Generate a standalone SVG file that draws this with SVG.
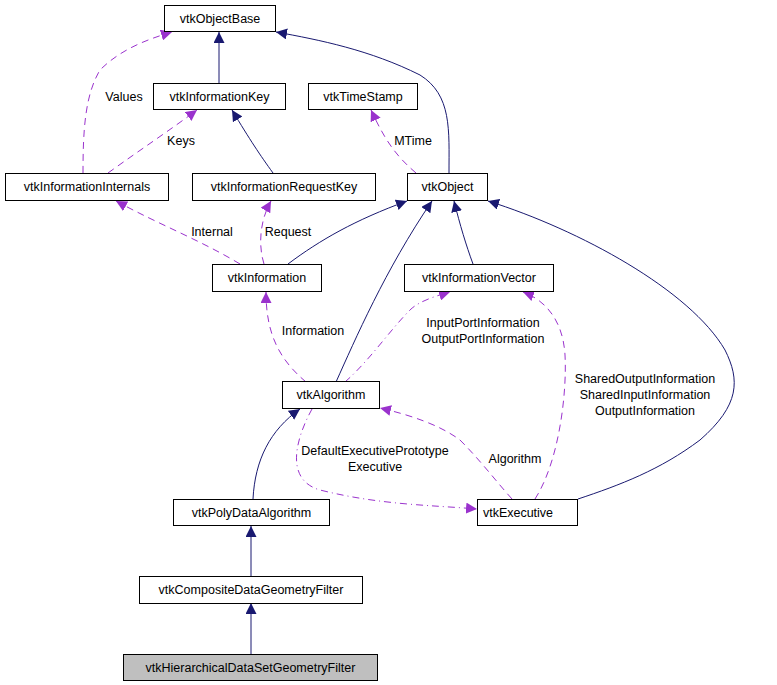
<svg xmlns="http://www.w3.org/2000/svg" width="777" height="685" viewBox="0 0 777 685">
<style>
.n rect{fill:#fff;stroke:#000;stroke-width:1}
text{font-family:"Liberation Sans",Arial,sans-serif;font-size:12.5px;fill:#000}
.n text{text-anchor:middle}
.s{fill:none;stroke:#191970;stroke-width:1}
.d{fill:none;stroke:#9a32cd;stroke-width:1;stroke-dasharray:7,5}
.dd{fill:none;stroke:#9a32cd;stroke-width:1;stroke-dasharray:7,4,1,4}
.l{text-anchor:middle}
</style>
<defs>
<marker id="ab" viewBox="0 0 10 10" refX="10" refY="5" markerWidth="11" markerHeight="11" markerUnits="userSpaceOnUse" orient="auto"><path d="M0,0L10,5L0,10z" fill="#191970"/></marker>
<marker id="ap" viewBox="0 0 10 10" refX="10" refY="5" markerWidth="11" markerHeight="11" markerUnits="userSpaceOnUse" orient="auto"><path d="M0,0L10,5L0,10z" fill="#9a32cd"/></marker>
</defs>
<rect width="777" height="685" fill="#fff"/>
<g id="edges">
<path class="s" marker-end="url(#ab)" d="M219,83L219,32"/>
<path class="s" marker-end="url(#ab)" d="M449,173C449,130 452,95 420,75C370,50 320,40 276,32"/>
<path class="d" marker-end="url(#ap)" d="M83,173C83,130 85,95 100,70C120,50 145,40 172,32"/>
<path class="d" marker-end="url(#ap)" d="M108,173C140,150 170,130 197,110"/>
<path class="s" marker-end="url(#ab)" d="M273,173C260,155 250,140 232,110"/>
<path class="d" marker-end="url(#ap)" d="M416,173C395,155 385,140 371,110"/>
<path class="d" marker-end="url(#ap)" d="M240,264C200,240 160,225 116,201"/>
<path class="d" marker-end="url(#ap)" d="M264,264C258,245 260,220 271,201"/>
<path class="s" marker-end="url(#ab)" d="M288,264C320,240 355,220 407,201"/>
<path class="s" marker-end="url(#ab)" d="M336,382C355,340 385,270 432,201"/>
<path class="s" marker-end="url(#ab)" d="M473,264C466,245 460,225 454,201"/>
<path class="s" marker-end="url(#ab)" d="M578,499C620,485 660,470 700,440C740,405 740,380 725,350C690,290 580,230 488,201"/>
<path class="d" marker-end="url(#ap)" d="M306,382C280,360 266,335 266,292"/>
<path class="dd" marker-end="url(#ap)" d="M345,382C370,360 390,330 410,310C420,300 440,295 450,292"/>
<path class="d" marker-end="url(#ap)" d="M535,499C560,460 567,390 565,355C563,320 545,300 523,292"/>
<path class="d" marker-end="url(#ap)" d="M512,499C495,480 480,460 460,440C440,425 410,415 380,408"/>
<path class="dd" marker-end="url(#ap)" d="M312,409C295,440 285,480 320,490C380,505 430,505 477,509"/>
<path class="s" marker-end="url(#ab)" d="M253,499C255,460 270,430 300,409"/>
<path class="s" marker-end="url(#ab)" d="M251,576L251,526"/>
<path class="s" marker-end="url(#ab)" d="M251,654L251,603"/>
</g>
<g id="labels">
<text class="l" x="124" y="101">Values</text>
<text class="l" x="181" y="145">Keys</text>
<text class="l" x="413" y="145">MTime</text>
<text class="l" x="212" y="236">Internal</text>
<text class="l" x="288" y="236">Request</text>
<text class="l" x="313" y="335">Information</text>
<text class="l" x="483" y="327">InputPortInformation</text>
<text class="l" x="483" y="343">OutputPortInformation</text>
<text class="l" x="645" y="383">SharedOutputInformation</text>
<text class="l" x="645" y="399">SharedInputInformation</text>
<text class="l" x="645" y="415">OutputInformation</text>
<text class="l" x="375" y="455">DefaultExecutivePrototype</text>
<text class="l" x="375" y="471">Executive</text>
<text class="l" x="515" y="463">Algorithm</text>
</g>
<g id="vtkObjectBase" class="n"><rect x="164.5" y="5.5" width="111" height="26"/><text x="220" y="23">vtkObjectBase</text></g>
<g id="vtkInformationKey" class="n"><rect x="153.5" y="83.5" width="132" height="26"/><text x="219.5" y="101">vtkInformationKey</text></g>
<g id="vtkTimeStamp" class="n"><rect x="308.5" y="83.5" width="109" height="26"/><text x="363" y="101">vtkTimeStamp</text></g>
<g id="vtkInformationInternals" class="n"><rect x="5.5" y="173.5" width="163" height="27"/><text x="87" y="191">vtkInformationInternals</text></g>
<g id="vtkInformationRequestKey" class="n"><rect x="192.5" y="173.5" width="183" height="27"/><text x="284" y="191">vtkInformationRequestKey</text></g>
<g id="vtkObject" class="n"><rect x="407.5" y="173.5" width="80" height="27"/><text x="447.5" y="191">vtkObject</text></g>
<g id="vtkInformation" class="n"><rect x="212.5" y="264.5" width="109" height="27"/><text x="267" y="282">vtkInformation</text></g>
<g id="vtkInformationVector" class="n"><rect x="404.5" y="264.5" width="149" height="27"/><text x="479" y="282">vtkInformationVector</text></g>
<g id="vtkAlgorithm" class="n"><rect x="282.5" y="381.5" width="97" height="27"/><text x="331" y="399">vtkAlgorithm</text></g>
<g id="vtkPolyDataAlgorithm" class="n"><rect x="173.5" y="499.5" width="156" height="26"/><text x="251.5" y="517">vtkPolyDataAlgorithm</text></g>
<g id="vtkExecutive" class="n"><rect x="477.5" y="499.5" width="100" height="26"/><text x="518" y="517">vtkExecutive</text></g>
<g id="vtkCompositeDataGeometryFilter" class="n"><rect x="139.5" y="576.5" width="223" height="27"/><text x="251" y="594">vtkCompositeDataGeometryFilter</text></g>
<g id="vtkHierarchicalDataSetGeometryFilter" class="n"><rect x="123.5" y="654.5" width="254" height="26" style="fill:#bfbfbf"/><text x="250.5" y="672">vtkHierarchicalDataSetGeometryFilter</text></g>
</svg>
